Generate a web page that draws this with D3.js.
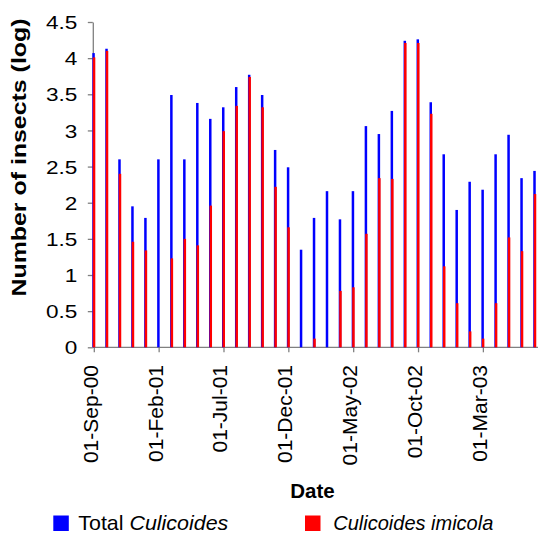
<!DOCTYPE html>
<html>
<head>
<meta charset="utf-8">
<script src="https://cdn.jsdelivr.net/npm/d3@7"></script>
<style>
  body { margin: 0; background: #fff; }
  svg text { font-family: "Liberation Sans", Arial, sans-serif; fill: #000; }
</style>
</head>
<body>
<svg id="chart" width="538" height="533"></svg>
<script>
// monthly sampling dates (categories)
const months = [
  '01-Sep-00', '01-Oct-00', '01-Nov-00', '01-Dec-00', '01-Jan-01', '01-Feb-01',
  '01-Mar-01', '01-Apr-01', '01-May-01', '01-Jun-01', '01-Jul-01', '01-Aug-01',
  '01-Sep-01', '01-Oct-01', '01-Nov-01', '01-Dec-01', '01-Jan-02', '01-Feb-02',
  '01-Mar-02', '01-Apr-02', '01-May-02', '01-Jun-02', '01-Jul-02', '01-Aug-02',
  '01-Sep-02', '01-Oct-02', '01-Nov-02', '01-Dec-02', '01-Jan-03', '01-Feb-03',
  '01-Mar-03', '01-Apr-03', '01-May-03', '01-Jun-03', '01-Jul-03'
];

// log number of insects
const totalCulicoides = [
  4.07, 4.13, 2.60, 1.95, 1.79, 2.60, 3.49, 2.60, 3.38, 3.16, 3.32, 3.60,
  3.77, 3.49, 2.73, 2.49, 1.35, 1.79, 2.16, 1.77, 2.16, 3.06, 2.95, 3.27,
  4.24, 4.26, 3.39, 2.67, 1.90, 2.29, 2.18, 2.67, 2.94, 2.34, 2.44
];
const culicoidesImicola = [
  4.01, 4.10, 2.40, 1.46, 1.34, 0, 1.23, 1.50, 1.41, 1.96, 2.99, 3.34,
  3.74, 3.32, 2.22, 1.66, 0, 0.12, 0, 0.78, 0.83, 1.57, 2.34, 2.33,
  4.21, 4.21, 3.23, 1.12, 0.61, 0.22, 0.12, 0.61, 1.52, 1.33, 2.12
];

const yTicks = [0, 0.5, 1, 1.5, 2, 2.5, 3, 3.5, 4, 4.5];

const blue = '#0000ff';
const red = '#ff0000';
const axisGrey = '#808080';

// plot area
const plotLeft = 92.8;
const plotRight = 538;
const plotTop = 22;
const plotBottom = 347.3;

const svg = d3.select('#chart');

const x = d3.scaleLinear()
  .domain([0, months.length - 0.75])
  .range([plotLeft + 1, plotRight]);

const y = d3.scaleLinear()
  .domain([0, 4.5])
  .range([plotBottom, plotTop]);

// y axis
const yAxis = svg.append('g')
  .attr('transform', `translate(${plotLeft},0)`)
  .call(d3.axisLeft(y)
    .tickValues(yTicks)
    .tickSize(5)
    .tickSizeOuter(0)
    .tickPadding(10.5)
    .tickFormat((d) => String(d)));

yAxis.select('.domain').attr('stroke', axisGrey).attr('stroke-width', 1.3);
yAxis.selectAll('.tick line').attr('stroke', axisGrey).attr('stroke-width', 1.3);
yAxis.selectAll('.tick text')
  .attr('font-size', 18.5)
  .attr('dy', '0.36em')
  .each(function () {
    // the reference font is noticeably wider than Arial
    this.setAttribute('textLength', this.getComputedTextLength() * 1.22);
    this.setAttribute('lengthAdjust', 'spacingAndGlyphs');
  });

// x axis
const xAxis = svg.append('g')
  .attr('transform', `translate(0,${plotBottom})`)
  .call(d3.axisBottom(x)
    .tickValues(d3.range(0, months.length, 5))
    .tickSize(5)
    .tickSizeOuter(0)
    .tickFormat((i) => months[i]));

xAxis.select('.domain').remove();
xAxis.append('line')
  .attr('x1', plotLeft)
  .attr('x2', plotRight)
  .attr('stroke', axisGrey)
  .attr('stroke-width', 1.3);
xAxis.selectAll('.tick line').attr('stroke', axisGrey).attr('stroke-width', 1.3);
xAxis.selectAll('.tick text')
  .attr('font-size', 21)
  .attr('transform', 'rotate(-90)')
  .attr('text-anchor', 'end')
  .attr('x', -17.7)
  .attr('y', 3.5)
  .attr('dy', 0);

// bars: total first, imicola over it and shifted a little to the right
svg.append('g')
  .selectAll('rect')
  .data(totalCulicoides)
  .join('rect')
  .attr('x', (d, i) => x(i) - 1.5)
  .attr('width', 2.5)
  .attr('y', (d) => y(d))
  .attr('height', (d) => y(0) - y(d))
  .attr('fill', blue);

svg.append('g')
  .selectAll('rect')
  .data(culicoidesImicola)
  .join('rect')
  .attr('x', (d, i) => x(i) - 1)
  .attr('width', 2.5)
  .attr('y', (d) => y(d))
  .attr('height', (d) => y(0) - y(d))
  .attr('fill', red);

// axis titles
svg.append('text')
  .attr('transform', 'translate(25.5,157.5) rotate(-90)')
  .attr('text-anchor', 'middle')
  .attr('font-size', 20.5)
  .attr('font-weight', 'bold')
  .attr('textLength', 278)
  .attr('lengthAdjust', 'spacingAndGlyphs')
  .text('Number of insects (log)');

svg.append('text')
  .attr('x', 312.5)
  .attr('y', 497.5)
  .attr('text-anchor', 'middle')
  .attr('font-size', 20.5)
  .attr('font-weight', 'bold')
  .text('Date');

// legend
const legendY = 515.5;
const legendSize = 15.5;
const legendBaseline = 529.5;

svg.append('rect')
  .attr('x', 53.3).attr('y', legendY)
  .attr('width', legendSize).attr('height', legendSize)
  .attr('fill', blue);

const totalLabel = svg.append('text')
  .attr('x', 78.3)
  .attr('y', legendBaseline)
  .attr('font-size', 21)
  .attr('textLength', 150)
  .attr('lengthAdjust', 'spacingAndGlyphs');
totalLabel.append('tspan').text('Total ');
totalLabel.append('tspan').attr('font-style', 'italic').text('Culicoides');

svg.append('rect')
  .attr('x', 305).attr('y', legendY)
  .attr('width', legendSize).attr('height', legendSize)
  .attr('fill', red);

svg.append('text')
  .attr('x', 333.3)
  .attr('y', legendBaseline)
  .attr('font-size', 21)
  .attr('font-style', 'italic')
  .attr('textLength', 160)
  .attr('lengthAdjust', 'spacingAndGlyphs')
  .text('Culicoides imicola');
</script>
</body>
</html>
